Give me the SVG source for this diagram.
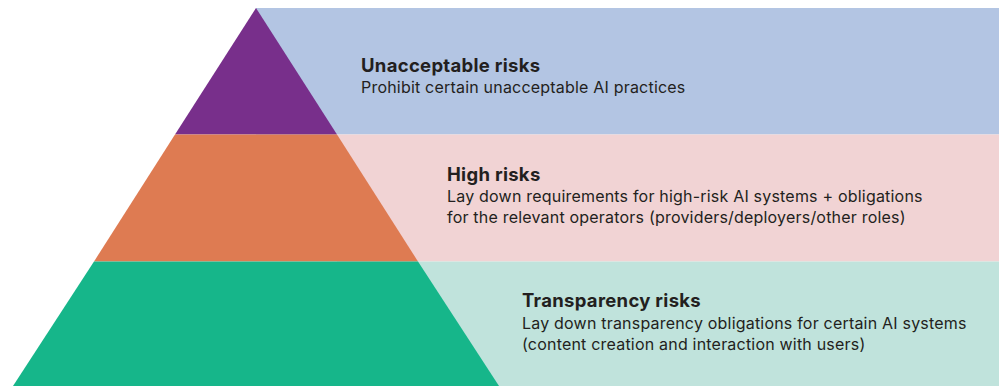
<svg xmlns="http://www.w3.org/2000/svg" width="999" height="386" viewBox="0 0 999 386">
<style>
.t{font-family:Inter,"Noto Sans","Liberation Sans",sans-serif;fill:#231f20}
.h{font-size:18.5px;font-weight:700;letter-spacing:0.3px}
.d{font-size:16px;font-weight:400;letter-spacing:0.2px}
</style>
<rect width="999" height="386" fill="#ffffff"/>
<g id="band-unacceptable">
<rect x="256" y="8" width="743" height="126.5" fill="#b3c5e3"/>
<polygon points="256,8 337,134.5 175,134.5" fill="#782f8b"/>
<text class="t h" x="361" y="72">Unacceptable risks</text>
<text class="t d" x="361" y="93">Prohibit certain unacceptable AI practices</text>
</g>
<g id="band-high">
<rect x="337" y="134.5" width="662" height="127" fill="#f1d3d4"/>
<polygon points="175,134.5 337,134.5 418,261.5 94,261.5" fill="#de7b52"/>
<text class="t h" x="447" y="181">High risks</text>
<text class="t d" x="447" y="202">Lay down requirements for high-risk AI systems + obligations</text>
<text class="t d" x="447" y="223">for the relevant operators (providers/deployers/other roles)</text>
</g>
<g id="band-transparency">
<rect x="418" y="261.5" width="581" height="124.5" fill="#c0e3dc"/>
<polygon points="94,261.5 418,261.5 499,386 13,386" fill="#16b68a"/>
<text class="t h" x="522" y="307">Transparency risks</text>
<text class="t d" x="522" y="329">Lay down transparency obligations for certain AI systems</text>
<text class="t d" x="522" y="350">(content creation and interaction with users)</text>
</g>
<g id="connectors"></g>
</svg>
